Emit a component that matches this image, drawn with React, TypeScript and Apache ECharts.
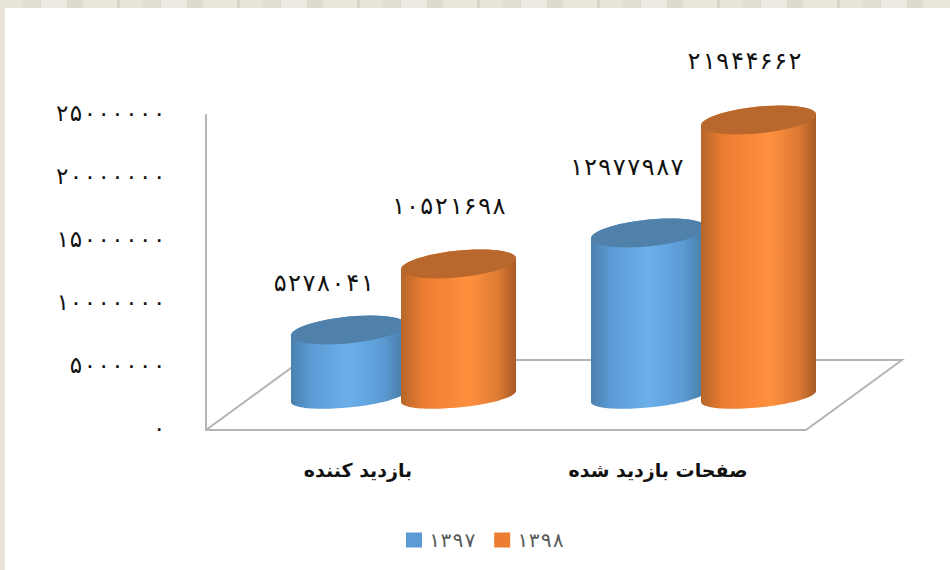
import React, { useEffect, useRef } from "react";
import * as echarts from "echarts";

const categories = ["بازدید کننده", "صفحات بازدید شده"];
const seriesNames = ["۱۳۹۷", "۱۳۹۸"];
const values1397 = [5278041, 12977987];
const values1398 = [10521698, 21944662];
const yTicks = ["۰", "۵۰۰۰۰۰۰", "۱۰۰۰۰۰۰۰", "۱۵۰۰۰۰۰۰", "۲۰۰۰۰۰۰۰", "۲۵۰۰۰۰۰۰"];

const FONT = "'DejaVu Sans', sans-serif";
const DIGIT_FONT = "'DejaVu Sans Mono', 'DejaVu Sans', monospace";
const DEPTH_X = 47.5;
const DEPTH_Y = 33.5;
const HALF_SEP = 55;
const EXT_X = 57.5;
const TOP_EXT_Y = 13.4;
const BASE_EXT_Y = 11;
const SHEAR = 5.5;

const toFa = (n: number) => String(n).replace(/\d/g, (d) => "۰۱۲۳۴۵۶۷۸۹"[Number(d)]);

const arc = (cx: number, cy: number, ey: number, from: number, to: number) => {
  const pts: number[][] = [];
  const steps = 48;
  for (let i = 0; i <= steps; i++) {
    const t = from + ((to - from) * i) / steps;
    pts.push([cx + EXT_X * Math.cos(t), cy - SHEAR * Math.cos(t) + ey * Math.sin(t)]);
  }
  return pts;
};

const makeSeries = (
  name: string,
  values: number[],
  side: number,
  body: { offset: number; color: string }[],
  topColor: string,
  legendColor: string,
  labelShift: number[][],
) => ({
  type: "custom",
  name,
  z: 3,
  itemStyle: { color: legendColor },
  data: values.map((v, i) => [i, v]),
  renderItem: (params: any, api: any) => {
    const idx = api.value(0);
    const val = api.value(1);
    const top = api.coord([idx, val]);
    const base = api.coord([idx, 0]);
    const cx = top[0] + DEPTH_X + side * HALF_SEP;
    const yTop = top[1] - DEPTH_Y;
    const yBase = base[1] - DEPTH_Y;
    const hull = [...arc(cx, yBase, BASE_EXT_Y, 0, Math.PI), ...arc(cx, yTop, TOP_EXT_Y, Math.PI, 2 * Math.PI)];
    const shift = labelShift[params.dataIndex];
    return {
      type: "group",
      children: [
        {
          type: "polygon",
          shape: { points: hull },
          style: { fill: new echarts.graphic.LinearGradient(0, 0, 1, 0, body) },
        },
        {
          type: "polygon",
          shape: { points: arc(cx, yTop, TOP_EXT_Y, 0, 2 * Math.PI) },
          style: { fill: topColor },
        },
        {
          type: "text",
          x: cx + shift[0],
          y: yTop + shift[1],
          style: {
            text: toFa(val),
            font: `24px ${DIGIT_FONT}`,
            fill: "#111",
            align: "center",
            verticalAlign: "middle",
          },
        },
      ],
    };
  },
});

export default function App() {
  const ref = useRef<HTMLDivElement>(null);
  useEffect(() => {
    document.body.style.margin = "0";
    const chart = echarts.init(ref.current!, null, { renderer: "svg" });
    chart.setOption({
      animation: false,
      backgroundColor: "transparent",
      grid: { left: 206, right: 144, top: 115, bottom: 140, containLabel: false },
      xAxis: {
        type: "category",
        data: categories,
        axisLine: { lineStyle: { color: "#b4b4b4", width: 2 } },
        axisTick: { show: false },
        axisLabel: { fontFamily: FONT, fontSize: 19, fontWeight: "bold", color: "#111", margin: 30, padding: [0, 0, 0, 4] },
      },
      yAxis: {
        type: "value",
        min: 0,
        max: 25000000,
        interval: 5000000,
        splitLine: { show: false },
        axisLine: { show: true, lineStyle: { color: "#b4b4b4", width: 2 } },
        axisTick: { show: false },
        axisLabel: {
          fontFamily: DIGIT_FONT,
          fontSize: 23,
          color: "#111",
          margin: 40,
          verticalAlign: "bottom",
          lineHeight: 5,
          formatter: (_: number, i: number) => yTicks[i],
        },
      },
      legend: {
        data: seriesNames,
        left: 401,
        top: 525,
        itemWidth: 16,
        itemHeight: 15,
        itemGap: 18,
        icon: "rect",
        textStyle: { fontFamily: DIGIT_FONT, fontSize: 20, color: "#595959", padding: [0, 0, 0, 1] },
      },
      graphic: [
        {
          type: "polyline",
          z: 0,
          shape: { points: [[206, 430], [302, 360], [902, 360], [806, 430]] },
          style: { stroke: "#b4b4b4", lineWidth: 2, fill: "none" },
        },
      ],
      series: [
        makeSeries(
          seriesNames[0],
          values1397,
          -1,
          [
            { offset: 0, color: "#4a80ac" },
            { offset: 0.18, color: "#5b9bd5" },
            { offset: 0.5, color: "#6cafe8" },
            { offset: 0.8, color: "#5b9bd5" },
            { offset: 1, color: "#47799f" },
          ],
          "#4f81ab",
          "#5b9bd5",
          [[-25, -47], [-22, -66]],
        ),
        makeSeries(
          seriesNames[1],
          values1398,
          1,
          [
            { offset: 0, color: "#b5662a" },
            { offset: 0.2, color: "#ed7d31" },
            { offset: 0.6, color: "#ff903e" },
            { offset: 0.85, color: "#dc7a34" },
            { offset: 1, color: "#a85a25" },
          ],
          "#b9682d",
          "#ed7d31",
          [[-10, -58], [-14, -59]],
        ),
      ],
    });
    return () => chart.dispose();
  }, []);

  return (
    <div
      style={{
        position: "relative",
        width: 950,
        height: 570,
        overflow: "hidden",
        background:
          "repeating-linear-gradient(90deg, #e9e4d9 0 23px, #e2ddd1 23px 41px, #efeae1 41px 67px, #dfdacf 67px 83px, #ebe6dc 83px 117px, #d9d4c8 117px 120px)",
      }}
    >
      <div style={{ position: "absolute", left: 5, top: 8, right: 0, bottom: 0, background: "#fff" }} />
      <div ref={ref} style={{ position: "absolute", left: 0, top: 0, width: 950, height: 570 }} />
    </div>
  );
}
